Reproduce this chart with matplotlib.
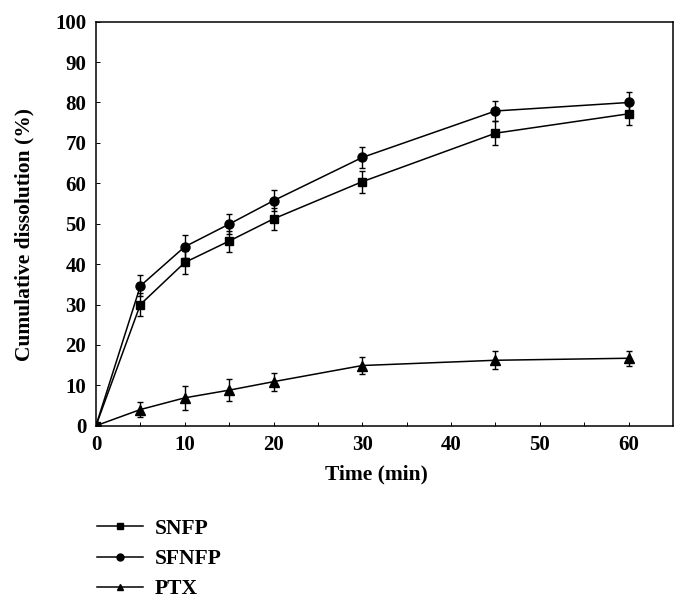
import numpy as np
import matplotlib.pyplot as plt
from matplotlib.lines import Line2D

plt.rcParams['font.family'] = ['Liberation Serif', 'DejaVu Serif']
plt.rcParams['font.weight'] = 'bold'

time = [0, 5, 10, 15, 20, 30, 45, 60]
snfp = [0, 30.0, 40.4, 45.7, 51.2, 60.4, 72.4, 77.2]
snfp_err = [0, 2.8, 2.9, 2.6, 2.8, 2.7, 2.9, 2.8]
sfnfp = [0, 34.6, 44.3, 49.9, 55.7, 66.4, 77.9, 80.0]
sfnfp_err = [0, 2.6, 2.8, 2.5, 2.6, 2.7, 2.5, 2.5]
ptx = [0, 4.0, 6.9, 8.8, 10.9, 14.9, 16.2, 16.7]
ptx_err = [0, 1.9, 3.0, 2.8, 2.2, 2.2, 2.2, 1.9]

names = ['SNFP', 'SFNFP', 'PTX']
markers = ['s', 'o', '^']
sizes = [5.5, 6.5, 6.5]

fig = plt.figure(figsize=(6.87, 6.06), dpi=100)
ax = fig.add_axes([0.1397, 0.2975, 0.8399, 0.6667])

for y, err, m, ms in zip([snfp, sfnfp, ptx], [snfp_err, sfnfp_err, ptx_err], markers, sizes):
    ax.errorbar(time, y, yerr=err, marker=m, ms=ms, color='black', lw=1.1,
                elinewidth=1.0, capsize=2.5, capthick=1.0)

ax.set_xlim(0, 65)
ax.set_ylim(0, 100)
ax.set_xticks(np.arange(0, 61, 10))
ax.set_xticks(np.arange(0, 65, 5), minor=True)
ax.set_yticks(np.arange(0, 101, 10))
ax.tick_params(which='both', direction='in', length=3, width=0.7, labelsize=15, pad=7)
for lbl in ax.get_xticklabels() + ax.get_yticklabels():
    lbl.set_fontweight('bold')
for s in ax.spines.values():
    s.set_linewidth(1.1)

ax.set_xlabel('Time (min)', fontsize=15.5, fontweight='bold')
ax.set_ylabel('Cumulative dissolution (%)', fontsize=15.5, fontweight='bold')
ax.xaxis.set_label_coords(0.486, -0.097)
ax.yaxis.set_label_coords(-0.106, 0.4745)

handles = [Line2D([], [], color='black', lw=1.1, marker=m, ms=5) for m in markers]
fig.legend(handles, names, loc='upper left', bbox_to_anchor=(0.125, 0.162),
           frameon=False, borderpad=0, handlelength=2.15, handletextpad=0.55,
           labelspacing=0.48, prop={'family': 'Liberation Serif', 'weight': 'bold', 'size': 15.5})

fig.savefig('out.png', dpi=100)
